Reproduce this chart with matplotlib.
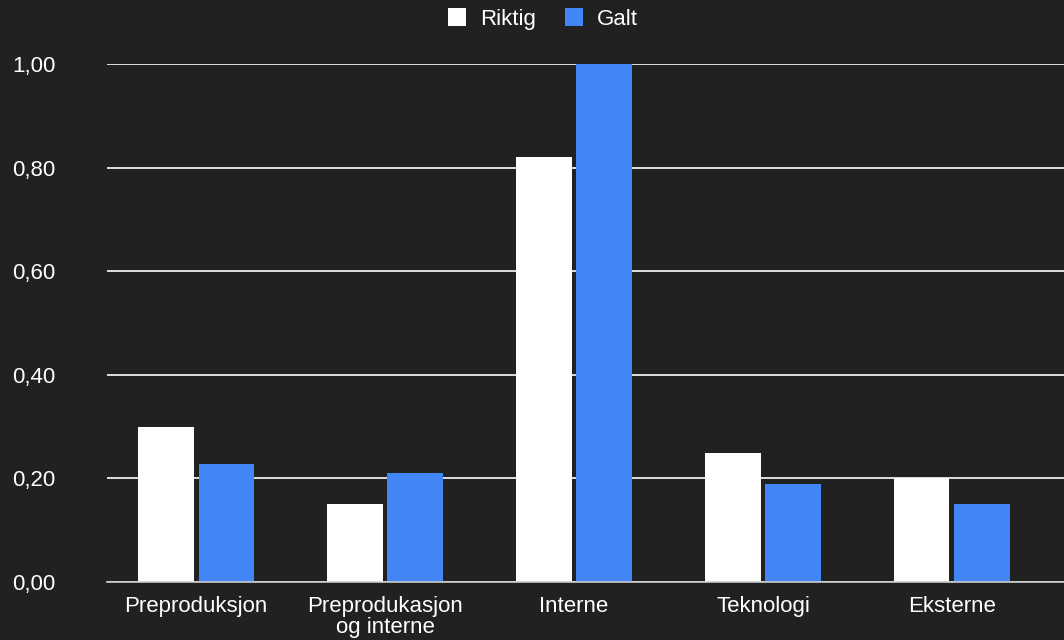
import numpy as np
import matplotlib.pyplot as plt
from matplotlib.ticker import FuncFormatter

plt.rcParams['font.family'] = ['Liberation Sans', 'DejaVu Sans']

categories = ['Preproduksjon', 'Preprodukasjon\nog interne', 'Interne', 'Teknologi', 'Eksterne']
riktig = [0.30, 0.15, 0.82, 0.25, 0.20]
galt = [0.227, 0.21, 1.00, 0.19, 0.15]
yticks = [0.0, 0.2, 0.4, 0.6, 0.8, 1.0]

bg = '#212121'
blue = '#4285f4'

fig = plt.figure(figsize=(10.64, 6.4), dpi=100, facecolor=bg)
ax = fig.add_axes([0.1006, 0.0906, 0.8994, 0.8094], facecolor=bg)

x = np.arange(len(categories))
w = 0.296
ax.bar(x - 0.161, riktig, w, color='white', label='Riktig', zorder=3)
ax.bar(x + 0.161, galt, w, color=blue, label='Galt', zorder=3)

ax.set_xlim(-0.471, 4.593)
ax.set_ylim(0, 1.0)
ax.set_yticks(yticks)
ax.yaxis.set_major_formatter(FuncFormatter(lambda v, p: '{:.2f}'.format(v).replace('.', ',')))
ax.set_xticks(x)
ax.set_xticklabels(categories, linespacing=1.0)

ax.grid(axis='y', color='white', linewidth=1.2, zorder=1)
ax.tick_params(axis='y', length=0, pad=37, labelcolor='white', labelsize=16)
ax.tick_params(axis='x', length=0, pad=10, labelcolor='white', labelsize=16)
for s in ['top', 'right', 'left']:
    ax.spines[s].set_visible(False)
ax.spines['bottom'].set_color('#cccccc')
ax.spines['bottom'].set_linewidth(1.2)
ax.spines['bottom'].set_zorder(4)

leg = fig.legend(loc='upper center', bbox_to_anchor=(0.51, 1.018), ncol=2, frameon=False,
                 handlelength=0.85, handleheight=0.85, handletextpad=0.6, columnspacing=1.3,
                 fontsize=16, labelcolor='white')

fig.savefig('out.png', dpi=100, facecolor=bg)
